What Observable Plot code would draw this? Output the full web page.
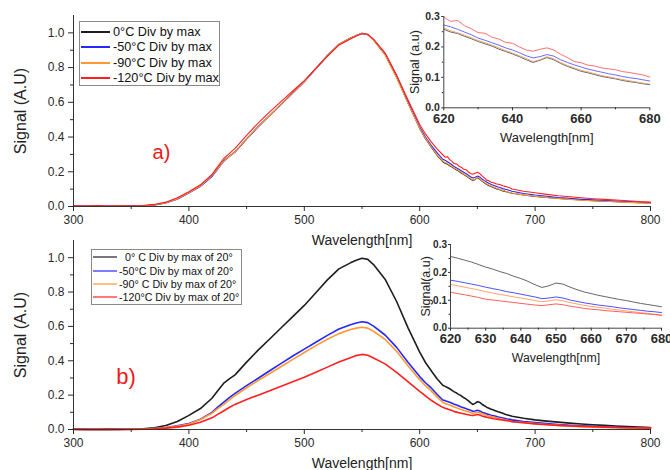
<!DOCTYPE html>
<html><head><meta charset="utf-8">
<script src="https://cdn.jsdelivr.net/npm/d3@7"></script>
<script src="https://cdn.jsdelivr.net/npm/@observablehq/plot@0.6"></script>
<style>
body{margin:0;background:#fff;}
#root{position:relative;width:670px;height:470px;overflow:hidden;font-family:"Liberation Sans",Arial,sans-serif;}
.pbox{position:absolute;}
.pbox svg{display:block;background:transparent;}
.legend{position:absolute;background:#fff;border:1px solid #8a8a8a;box-sizing:border-box;}
.row{position:absolute;left:0;white-space:pre;color:#111;}
.row svg{position:absolute;left:0;top:0;}
</style></head>
<body><div id="root"></div>
<script>
// ---------- data ----------
const wavelength = [300,310,320,330,340,350,360,370,380,390,400,410,420,425,430,435,440,450,460,470,480,490,500,510,520,530,540,545,550,555,560,570,580,590,600,605,610,615,
620,622,624,626,628,630,632,634,636,638,640,642,644,646,648,650,652,654,656,658,660,662,664,666,668,670,672,674,676,678,680,
690,700,710,720,730,740,750,760,770,780,790,800];

// panel a (normalised by own max)
const a0 = [0.002,0.001,0.002,0.001,0.002,0.002,0.004,0.01,0.022,0.045,0.08,0.12,0.18,0.22,0.262,0.29,0.315,0.39,0.46,0.525,0.59,0.655,0.72,0.795,0.87,0.935,0.97,0.985,0.998,0.99,0.96,0.875,0.745,0.595,0.45,0.39,0.342,0.295,
0.258,0.249,0.244,0.235,0.227,0.218,0.21,0.203,0.193,0.185,0.177,0.168,0.158,0.149,0.156,0.165,0.158,0.146,0.136,0.128,0.12,0.115,0.109,0.103,0.099,0.095,0.09,0.086,0.083,0.079,0.076,
0.066,0.058,0.052,0.047,0.042,0.038,0.034,0.031,0.028,0.025,0.022,0.02];
const a50 = [0.001,0.002,0.001,0.002,0.001,0.002,0.003,0.008,0.02,0.042,0.077,0.115,0.172,0.215,0.258,0.287,0.313,0.388,0.458,0.523,0.588,0.653,0.718,0.792,0.868,0.932,0.968,0.984,0.997,0.99,0.962,0.878,0.75,0.6,0.458,0.4,0.352,0.31,
0.272,0.266,0.258,0.249,0.24,0.229,0.222,0.214,0.206,0.197,0.19,0.181,0.171,0.164,0.168,0.175,0.17,0.158,0.149,0.141,0.134,0.127,0.122,0.117,0.112,0.108,0.103,0.099,0.096,0.092,0.088,
0.075,0.066,0.059,0.052,0.047,0.042,0.038,0.034,0.031,0.028,0.025,0.022];
const a90 = [0.001,0.001,0.002,0.001,0.002,0.001,0.004,0.009,0.021,0.044,0.079,0.118,0.178,0.218,0.26,0.288,0.314,0.389,0.459,0.524,0.589,0.654,0.719,0.794,0.869,0.934,0.969,0.985,0.997,0.989,0.958,0.873,0.742,0.592,0.451,0.392,0.344,0.298,
0.262,0.253,0.247,0.239,0.23,0.221,0.214,0.206,0.197,0.188,0.18,0.171,0.162,0.152,0.158,0.168,0.161,0.149,0.139,0.131,0.123,0.118,0.112,0.106,0.102,0.097,0.093,0.089,0.085,0.081,0.078,
0.067,0.059,0.052,0.046,0.041,0.036,0.033,0.03,0.027,0.024,0.021,0.019];
const a120 = [0.004,0.003,0.005,0.002,0.004,0.003,0.006,0.012,0.025,0.05,0.085,0.125,0.185,0.23,0.275,0.305,0.335,0.41,0.48,0.545,0.605,0.665,0.725,0.795,0.865,0.93,0.965,0.982,0.995,0.992,0.962,0.885,0.758,0.612,0.472,0.418,0.372,0.332,
0.298,0.284,0.287,0.27,0.26,0.247,0.245,0.232,0.226,0.215,0.212,0.2,0.19,0.186,0.192,0.197,0.19,0.176,0.165,0.152,0.148,0.14,0.137,0.131,0.128,0.125,0.119,0.116,0.112,0.108,0.101,
0.088,0.079,0.07,0.062,0.056,0.05,0.045,0.041,0.037,0.033,0.029,0.025];

// panel b (normalised by max of 20°)
const b0 = [0.002,0.001,0.002,0.001,0.002,0.002,0.004,0.01,0.023,0.047,0.082,0.122,0.182,0.225,0.268,0.295,0.318,0.392,0.462,0.527,0.592,0.657,0.722,0.796,0.871,0.935,0.97,0.985,0.997,0.99,0.96,0.875,0.745,0.59,0.45,0.39,0.342,0.295,
0.257,0.251,0.244,0.237,0.228,0.219,0.212,0.203,0.196,0.186,0.178,0.168,0.156,0.146,0.152,0.162,0.158,0.147,0.138,0.13,0.124,0.118,0.113,0.108,0.103,0.099,0.094,0.089,0.085,0.081,0.077,
0.065,0.056,0.049,0.043,0.037,0.032,0.028,0.024,0.02,0.017,0.014,0.012];
const b50 = [0.001,0.002,0.001,0.002,0.001,0.002,0.003,0.006,0.012,0.021,0.035,0.06,0.1,0.13,0.158,0.185,0.21,0.255,0.298,0.342,0.385,0.428,0.468,0.508,0.548,0.585,0.61,0.62,0.627,0.622,0.602,0.55,0.478,0.39,0.308,0.272,0.242,0.205,
0.172,0.168,0.163,0.158,0.153,0.147,0.142,0.137,0.131,0.127,0.122,0.117,0.112,0.106,0.108,0.112,0.108,0.101,0.096,0.091,0.087,0.083,0.08,0.077,0.073,0.07,0.067,0.064,0.061,0.059,0.056,
0.047,0.04,0.034,0.029,0.025,0.021,0.018,0.015,0.013,0.011,0.009,0.008];
const b90 = [0.001,0.001,0.002,0.001,0.001,0.002,0.003,0.005,0.011,0.019,0.032,0.058,0.095,0.122,0.145,0.172,0.198,0.243,0.285,0.326,0.367,0.408,0.448,0.488,0.525,0.558,0.582,0.59,0.595,0.59,0.572,0.525,0.455,0.37,0.29,0.255,0.225,0.19,
0.157,0.152,0.147,0.142,0.137,0.131,0.126,0.121,0.117,0.112,0.108,0.104,0.099,0.095,0.098,0.102,0.098,0.092,0.087,0.082,0.078,0.075,0.072,0.068,0.065,0.062,0.059,0.056,0.053,0.05,0.047,
0.04,0.034,0.029,0.024,0.02,0.017,0.014,0.012,0.01,0.008,0.007,0.006];
const b120 = [0.002,0.001,0.001,0.002,0.001,0.001,0.002,0.004,0.008,0.014,0.025,0.042,0.068,0.088,0.108,0.128,0.146,0.175,0.2,0.226,0.252,0.278,0.304,0.333,0.363,0.393,0.418,0.43,0.437,0.432,0.416,0.382,0.332,0.277,0.222,0.196,0.17,0.148,
0.129,0.124,0.12,0.115,0.11,0.104,0.101,0.098,0.095,0.092,0.089,0.086,0.083,0.081,0.084,0.087,0.084,0.079,0.075,0.071,0.068,0.066,0.063,0.061,0.059,0.057,0.055,0.053,0.051,0.049,0.046,
0.039,0.033,0.028,0.024,0.021,0.018,0.016,0.014,0.012,0.01,0.009,0.008];

const namesA = ["0°C Div by max","-50°C Div by max","-90°C Div by max","-120°C Div by max"];
const namesB = ["  0° C Div by max of 20°","-50°C Div by max of 20°","-90° C Div by max of 20°","-120°C Div by max of 20°"];
const colors = ["#1e1e1e","#2626ff","#ff9933","#ff1f1f"];
const insetColorsA = ["#555555","#5a5aff","#f0a060","#ff6060"];
const insetColorsB = ["#555555","#3a3aff","#ff9a55","#ff4a4a"];

const mainXTicks = [300,400,500,600,700,800];
const mainXMinor = [350,450,550,650,750];
const mainYTicks = [0,0.2,0.4,0.6,0.8,1.0];
const mainYMinor = [0.1,0.3,0.5,0.7,0.9];
const insetAXTicks = [620,640,660,680];
const insetAXMinor = [630,650,670];
const insetBXTicks = [620,630,640,650,660,670,680];
const insetBXMinor = [625,635,645,655,665,675];
const insetYTicks = [0,0.1,0.2,0.3];
const insetYMinor = [0.05,0.15,0.25];

// ---------- build ----------
function rows(names, arrays) {
  const out = [];
  names.forEach((n, i) => arrays[i].forEach((v, j) => out.push({wl: wavelength[j], v, s: n})));
  return out;
}
const rowsA = rows(namesA, [a0, a50, a90, a120]);
const rowsB = rows(namesB, [b0, b50, b90, b120]);
const font = "'Liberation Sans', Arial, sans-serif";
const root = document.getElementById("root");

function place(el, left, top) {
  const d = document.createElement("div");
  d.className = "pbox"; d.style.left = left + "px"; d.style.top = top + "px";
  d.appendChild(el); root.appendChild(d);
}

function mainPlot(data, names, sw, tag, o) {
  return Plot.plot({
    width: 670, height: o.h, marginTop: 15, marginBottom: o.mb, marginLeft: 73, marginRight: 20,
    x: {domain: [300, 800]}, y: {domain: [0, 1.1]},
    color: {domain: names, range: colors},
    style: {fontFamily: font, background: "transparent", color: "#2a2a2a"},
    marks: [
      Plot.line(data, {x: "wl", y: "v", z: "s", stroke: "s", strokeWidth: sw}),
      Plot.ruleY([0], {stroke: "#333"}),
      Plot.ruleX([300], {stroke: "#333"}),
      Plot.axisX({ticks: mainXTicks, tickSize: 5, tickPadding: 4, fontSize: 12, label: null}),
      Plot.axisX({ticks: mainXMinor, tickSize: 3, text: null, label: null}),
      Plot.axisY({ticks: mainYTicks, tickSize: 5, tickPadding: 4, fontSize: 12, label: null, tickFormat: d3.format(".1f")}),
      Plot.axisY({ticks: mainYMinor, tickSize: 3, text: null, label: null}),
      Plot.text(["Signal (A.U)"], {text: d => d, frameAnchor: "left", textAnchor: "middle", lineAnchor: "middle", dx: -53, rotate: -90, fontSize: 16, fill: "#222"}),
      Plot.text(["Wavelength[nm]"], {text: d => d, frameAnchor: "bottom", textAnchor: "middle", lineAnchor: "middle", dy: 34, fontSize: 14, fill: "#222"}),
      Plot.text([tag], {text: d => d, frameAnchor: "left", textAnchor: "middle", lineAnchor: "middle", dx: o.tagDx, dy: 41.5, fill: "#f01818", fontSize: o.tagSize})
    ]
  });
}

function insetPlot(data, names, cols, o) {
  return Plot.plot({
    width: 270, height: o.h, marginTop: o.mt, marginBottom: o.mb, marginLeft: o.ml, marginRight: o.mr,
    x: {domain: [620, 680]}, y: {domain: [0, 0.3]},
    color: {domain: names, range: cols},
    style: {fontFamily: font, background: "transparent", color: "#2a2a2a"},
    marks: [
      Plot.line(data.filter(d => d.wl >= 620 && d.wl <= 680), {x: "wl", y: "v", z: "s", stroke: "s", strokeWidth: 0.9}),
      Plot.ruleY([0], {stroke: "#444"}),
      Plot.ruleX([620], {stroke: "#444"}),
      Plot.axisX({ticks: o.xt, tickSize: 3, tickPadding: 3, fontSize: 13, fontWeight: "bold", label: null}),
      Plot.axisX({ticks: o.xm, tickSize: 2, text: null, label: null}),
      Plot.axisY({ticks: insetYTicks, tickSize: 2, tickPadding: o.yp, fontSize: o.yf, fontWeight: "bold", label: null, tickFormat: d3.format(".1f")}),
      Plot.axisY({ticks: insetYMinor, tickSize: 1.5, text: null, label: null}),
      Plot.text([o.ylab], {text: d => d, frameAnchor: "left", textAnchor: "middle", lineAnchor: "middle", dx: o.ylabDx, rotate: -90, fontSize: 12.5, fill: "#222"}),
      Plot.text(["Wavelength[nm]"], {text: d => d, frameAnchor: "bottom", textAnchor: "middle", lineAnchor: "middle", dy: 30, fontSize: o.xlf, fill: "#222"})
    ]
  });
}

place(mainPlot(rowsA, namesA, 1.1, "a)", {h: 250, mb: 44, tagDx: 88, tagSize: 20}), 0, 0);
place(mainPlot(rowsB, namesB, 1.6, "b)", {h: 245, mb: 41, tagDx: 52.5, tagSize: 22}), 0, 225);
place(insetPlot(rowsA, namesA, insetColorsA, {h: 150, mt: 16, mb: 42.7, ml: 43.3, mr: 20.7, xt: insetAXTicks, xm: insetAXMinor, yp: 2, yf: 10.5, ylab: "Signal (a.u)", ylabDx: -29, xlf: 13}), 400, 0);
place(insetPlot(rowsB, namesB, insetColorsB, {h: 142, mt: 14, mb: 44.3, ml: 50, mr: 9, xt: insetBXTicks, xm: insetBXMinor, yp: 1.5, yf: 10, ylab: "Signal(a.u)", ylabDx: -25, xlf: 12.3}), 400, 230);

// ---------- legends ----------
function legend(names, o) {
  const box = document.createElement("div");
  box.className = "legend";
  Object.assign(box.style, {left: o.left + "px", top: o.top + "px", width: o.w + "px", height: o.h + "px"});
  names.forEach((n, i) => {
    const r = document.createElement("div");
    r.className = "row";
    const cy = o.y0 + i * o.dy;
    Object.assign(r.style, {top: (cy - 8) + "px", height: "16px", lineHeight: "16px", fontSize: o.fs + "px", left: "0px", width: (o.w - 2) + "px"});
    const ns = "http://www.w3.org/2000/svg";
    const s = document.createElementNS(ns, "svg");
    s.setAttribute("width", o.sx1 + 2); s.setAttribute("height", 16);
    const l = document.createElementNS(ns, "line");
    l.setAttribute("x1", o.sx0); l.setAttribute("x2", o.sx1); l.setAttribute("y1", 8); l.setAttribute("y2", 8);
    l.setAttribute("stroke", colors[i]); l.setAttribute("stroke-width", o.sw);
    s.appendChild(l); r.appendChild(s);
    const t = document.createElement("span");
    t.textContent = n; t.style.position = "absolute"; t.style.left = o.tx + "px";
    r.appendChild(t);
    box.appendChild(r);
  });
  root.appendChild(box);
}
legend(namesA, {left: 79, top: 21, w: 141, h: 65, y0: 9.5, dy: 15.5, fs: 12.7, sx0: 1, sx1: 30, tx: 33, sw: 2});
legend(namesB, {left: 91, top: 249, w: 151, h: 56, y0: 7.2, dy: 13.3, fs: 10.7, sx0: 1, sx1: 25, tx: 27, sw: 1.2});
</script>
</body></html>
